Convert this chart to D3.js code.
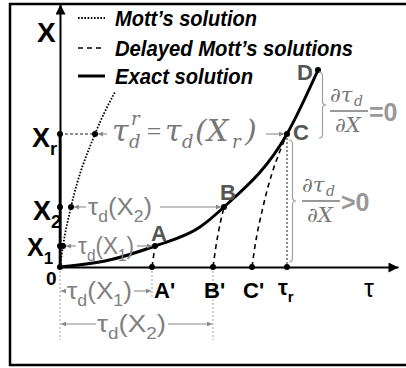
<!DOCTYPE html>
<html>
<head>
<meta charset="utf-8">
<script src="https://cdn.jsdelivr.net/npm/d3@7"></script>
<style>
body { margin: 0; background: #fff; }
text { font-family: "Liberation Sans", Arial, sans-serif; }
.math { font-family: "DejaVu Serif", "Liberation Serif", serif; font-style: italic; }
</style>
</head>
<body>
<div id="chart"></div>
<script>
var svgWidth = 406;
var svgHeight = 368;

// schematic units (tau to the right, X upwards)
var tauMax = 338;
var xMax = 263;

// Mott's solution tau(X)
var mottX = [0, 21, 60, 133, 175];
var mottTau = [0, 3, 11, 35, 55];

// exact solution
var exactTau = [0, 45, 95, 140, 164, 227, 258];
var exactX = [0, 6, 21, 40, 60, 133, 197];

// levels X1, X2, Xr and their delays A', B', C'
var levelNames = ["1", "2", "r"];
var levelX = [21, 60, 133];
var delayTau = [92, 153, 192];
var delayNames = ["A'", "B'", "C'"];
var pointNames = ["A", "B", "C", "D"];

var legendNames = ["Mott\u2019s solution", "Delayed Mott\u2019s solutions", "Exact solution"];

var svg = d3.select("#chart")
  .append("svg")
  .attr("width", svgWidth)
  .attr("height", svgHeight);

var defs = svg.append("defs");
function addMarker(id, color, w, h) {
  defs.append("marker")
    .attr("id", id)
    .attr("viewBox", "0 0 10 10")
    .attr("refX", 10)
    .attr("refY", 5)
    .attr("markerUnits", "userSpaceOnUse")
    .attr("markerWidth", w)
    .attr("markerHeight", h)
    .attr("orient", "auto")
    .append("path")
    .attr("d", "M0,0L10,5L0,10z")
    .attr("fill", color);
}
addMarker("axisArrow", "#000", 12, 10);
addMarker("grayArrow", "#8a8a8a", 6, 5);

// frame
svg.append("rect")
  .attr("x", 10)
  .attr("y", 4)
  .attr("width", 420)
  .attr("height", 361)
  .attr("fill", "none")
  .attr("stroke", "#000")
  .attr("stroke-width", 2.5);

var x = d3.scaleLinear().domain([0, tauMax]).range([60, 398]);
var y = d3.scaleLinear().domain([0, xMax]).range([267, 4]);

var xAxis = svg.append("g")
  .attr("transform", `translate(0, ${y(0)})`)
  .call(d3.axisBottom(x).tickValues([]).tickSizeOuter(0));
var yAxis = svg.append("g")
  .attr("transform", `translate(${x(0)}, 0)`)
  .call(d3.axisLeft(y).tickValues([]).tickSizeOuter(0));
[xAxis, yAxis].forEach(function(a) {
  a.select(".domain")
    .attr("stroke-width", 2)
    .attr("marker-end", "url(#axisArrow)");
});

var line = d3.line()
  .x(d => x(d[0]))
  .y(d => y(d[1]))
  .curve(d3.curveMonotoneX);

var gray = "#8a8a8a";

function grayLine(x1, y1, x2, y2, dash, color, arrow) {
  var l = svg.append("line")
    .attr("x1", x1).attr("y1", y1)
    .attr("x2", x2).attr("y2", y2)
    .attr("stroke", color || gray)
    .attr("stroke-width", 1.1);
  if (dash) l.attr("stroke-dasharray", dash);
  if (arrow) l.attr("marker-end", "url(#grayArrow)");
  return l;
}

// guide lines below the axis
grayLine(x(0), y(0), x(0), 340, "2,2", "#aaa");
grayLine(x(delayTau[0]), y(0), x(delayTau[0]), 298, "2,2", "#aaa");
grayLine(x(delayTau[1]), y(0), x(delayTau[1]), 340, "2,2", "#aaa");

// tau_r vertical from C
var tauR = delayTau[2] + mottTau[3];
grayLine(x(tauR), y(levelX[2]), x(tauR), y(0), "2,2", "#333");
// Xr horizontal to Mott point
grayLine(x(0), y(levelX[2]), x(mottTau[3]), y(levelX[2]), "3,2", "#222");

// thick part of the X axis
svg.append("line")
  .attr("x1", x(0)).attr("x2", x(0))
  .attr("y1", y(0)).attr("y2", y(levelX[2]))
  .attr("stroke", "#000").attr("stroke-width", 2.6);

// Mott's solution
var mottPts = d3.zip(mottTau, mottX);
svg.append("path")
  .attr("d", line(mottPts))
  .attr("fill", "none")
  .attr("stroke", "#000")
  .attr("stroke-width", 1.8)
  .attr("stroke-dasharray", "1.6,1.6");

// delayed Mott's solutions
delayTau.forEach(function(t0, i) {
  var pts = mottPts.slice(0, i + 2).map(d => [d[0] + t0, d[1]]);
  svg.append("path")
    .attr("d", line(pts))
    .attr("fill", "none")
    .attr("stroke", "#000")
    .attr("stroke-width", 1.6)
    .attr("stroke-dasharray", "5,4");
});

// exact solution
svg.append("path")
  .attr("d", line(d3.zip(exactTau, exactX)))
  .attr("fill", "none")
  .attr("stroke", "#000")
  .attr("stroke-width", 3);

// dots
var dots = [[0, 0]];
levelX.forEach(function(lx, i) {
  dots.push([0, lx]);
  dots.push([mottTau[i + 1], lx]);
  dots.push([delayTau[i] + mottTau[i + 1], lx]);
  dots.push([delayTau[i], 0]);
});
dots.push([tauR, 0]);
dots.push([exactTau[exactTau.length - 1], exactX[exactX.length - 1]]);
svg.selectAll("circle.dot")
  .data(dots)
  .enter()
  .append("circle")
  .attr("class", "dot")
  .attr("cx", d => x(d[0]))
  .attr("cy", d => y(d[1]))
  .attr("r", 3)
  .attr("fill", "#000");

// rich text helper: parts = [[string, "sub"|null], ...]
function rich(px, py, parts, size, fill, weight) {
  var t = svg.append("text")
    .attr("x", px)
    .attr("y", py)
    .attr("font-size", size)
    .attr("fill", fill)
    .attr("font-weight", weight || "normal");
  var shift = 0;
  parts.forEach(function(p) {
    var s = p[1] === "sub" ? size * 0.3 : 0;
    t.append("tspan")
      .attr("dy", s - shift)
      .attr("font-size", p[1] ? size * 0.68 : size)
      .text(p[0]);
    shift = s;
  });
  return t;
}

// legend
var legendY = [18, 48, 76];
var legendDash = ["1.6,1.6", "5,4", null];
var legendWidth = [1.8, 1.6, 3];
var legendLen = [142, 238, 138];
legendNames.forEach(function(name, i) {
  var l = svg.append("line")
    .attr("x1", 78).attr("x2", 105)
    .attr("y1", legendY[i]).attr("y2", legendY[i])
    .attr("stroke", "#000")
    .attr("stroke-width", legendWidth[i]);
  if (legendDash[i]) l.attr("stroke-dasharray", legendDash[i]);
  svg.append("text")
    .attr("x", 115)
    .attr("y", legendY[i] + 8)
    .attr("font-size", 22)
    .attr("font-weight", "bold")
    .attr("font-style", "italic")
    .attr("textLength", legendLen[i])
    .attr("lengthAdjust", "spacingAndGlyphs")
    .text(name);
});

// axis labels
svg.append("text").attr("x", 37).attr("y", 42)
  .attr("font-size", 28).attr("font-weight", "bold").text("X");
svg.append("text").attr("x", 364).attr("y", 297)
  .attr("font-size", 25).text("\u03c4");
svg.append("text").attr("x", 46).attr("y", 285)
  .attr("font-size", 19).attr("font-weight", "bold").text("0");

var levelLabelX = [27, 33, 32];
var levelLabelDy = [10, 13, 13];
var levelSize = [25, 27, 27];
levelX.forEach(function(lx, i) {
  rich(levelLabelX[i], y(lx) + levelLabelDy[i], [["X", null], [levelNames[i], "sub"]], levelSize[i], "#000", "bold");
});

// A', B', C', tau_r
delayNames.forEach(function(n, i) {
  svg.append("text")
    .attr("x", x(delayTau[i]) + 2 - (i > 0 ? 11 : 0))
    .attr("y", 298)
    .attr("font-size", 22)
    .attr("font-weight", "bold")
    .text(n);
});
rich(x(tauR) - 9, 295, [["\u03c4", null], ["r", "sub"]], 22, "#000", "bold");

// A, B, C, D labels
var pointPos = [[151, 241], [220, 200], [293, 140], [297, 80]];
pointNames.forEach(function(n, i) {
  svg.append("text")
    .attr("x", pointPos[i][0])
    .attr("y", pointPos[i][1])
    .attr("font-size", 22)
    .attr("font-weight", "bold")
    .attr("fill", "#555")
    .text(n);
});

// tau_d(X) annotations
var labGray = "#808080";
function tauLabel(px, py, sub, w) {
  return rich(px, py, [["\u03c4", null], ["d", "sub"], ["(X", null], [sub, "sub"], [")", null]], 23, labGray)
    .attr("textLength", w)
    .attr("lengthAdjust", "spacingAndGlyphs");
}
// level X2
var yX2 = y(levelX[1]);
grayLine(86, yX2, x(mottTau[2]) + 3, yX2, null, null, true);
tauLabel(88, yX2 + 8, "2", 64);
grayLine(160, yX2, x(delayTau[1] + mottTau[2]) - 3, yX2, null, null, true);
// level X1
var yX1 = y(levelX[0]);
grayLine(76, yX1, x(mottTau[1]) + 3, yX1, null, null, true);
tauLabel(78, yX1 + 8, "1", 56);
grayLine(137, yX1, x(delayTau[0] + mottTau[1]) - 3, yX1, null, null, true);
// below axis
grayLine(66, 291, x(0) + 1, 291, null, null, true);
tauLabel(67, 299, "1", 65);
grayLine(134, 291, x(delayTau[0]) - 1, 291, null, null, true);
grayLine(96, 324, x(0) + 1, 324, null, null, true);
tauLabel(97, 332, "2", 69);
grayLine(168, 324, x(delayTau[1]) - 1, 324, null, null, true);

// tau_d^r = tau_d(X_r)
var yXr = y(levelX[2]);
var fGray = "#777";
grayLine(107, yXr, x(mottTau[3]) + 3, yXr, null, null, true);
grayLine(266, yXr, x(tauR) - 3, yXr, null, null, true);
function mathText(px, py, s, size) {
  return svg.append("text").attr("class", "math")
    .attr("x", px).attr("y", py)
    .attr("font-size", size).attr("fill", fGray).text(s);
}
mathText(112, 141, "\u03c4", 30);
mathText(131, 125, "r", 18);
mathText(129, 148, "d", 18);
mathText(145, 140, "=", 26)
  .attr("font-style", "normal")
  .style("font-family", "'Liberation Serif', serif");
mathText(165, 141, "\u03c4", 30);
mathText(182, 148, "d", 18);
mathText(195, 141, "(", 30);
mathText(207, 141, "X", 30);
mathText(232, 148, "r", 18);
mathText(245, 141, ")", 30);

// braces
function brace(bx, y0, y1, w) {
  var ym = (y0 + y1) / 2;
  var h = w / 2;
  var p = `M${bx},${y0} Q${bx + h},${y0} ${bx + h},${y0 + 4} L${bx + h},${ym - 4}` +
    ` Q${bx + h},${ym} ${bx + w},${ym} Q${bx + h},${ym} ${bx + h},${ym + 4}` +
    ` L${bx + h},${y1 - 4} Q${bx + h},${y1} ${bx},${y1}`;
  svg.append("path").attr("d", p)
    .attr("fill", "none").attr("stroke", "#a0a0a0").attr("stroke-width", 1.2);
}
var yD = y(exactX[exactX.length - 1]);
brace(319, yD + 2, yXr + 4, 7);
brace(289, yXr + 6, y(0) - 5, 7);

// derivative fractions
function fraction(fx, fy, right) {
  mathText(fx, fy - 9, "\u2202\u03c4", 21);
  mathText(fx + 24, fy - 5, "d", 14);
  svg.append("line")
    .attr("x1", fx).attr("x2", fx + 38)
    .attr("y1", fy).attr("y2", fy)
    .attr("stroke", fGray).attr("stroke-width", 1.4);
  mathText(fx + 5, fy + 21, "\u2202X", 21);
  svg.append("text")
    .attr("x", fx + 39).attr("y", fy + 10)
    .attr("font-size", 25).attr("font-weight", "bold")
    .attr("fill", "#999").text(right);
}
fraction(330, 111, "=0");
fraction(302, 201, ">0");
</script>
</body>
</html>
